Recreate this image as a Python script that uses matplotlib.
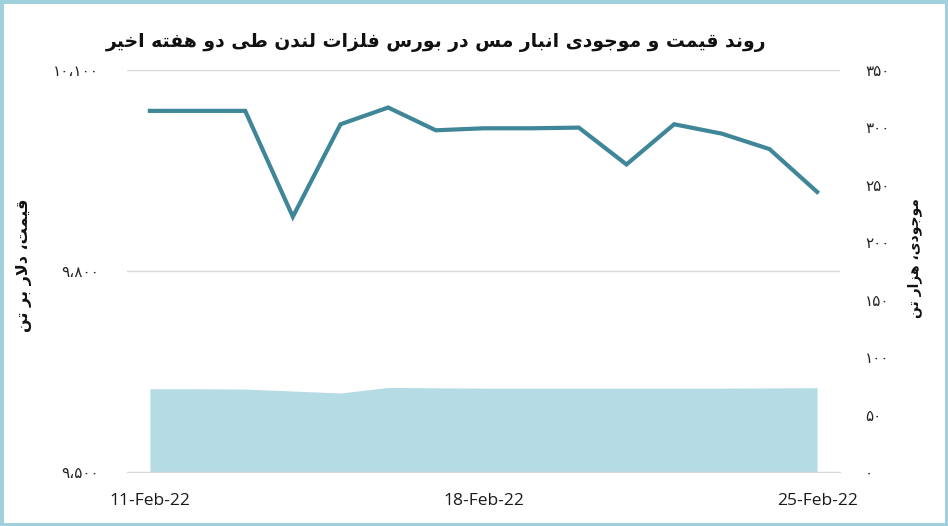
import matplotlib
matplotlib.use("Agg")
import matplotlib.pyplot as plt
from matplotlib.ticker import FuncFormatter, FixedLocator
from matplotlib.patches import Rectangle

# data: 11-Feb-22 .. 25-Feb-22, daily
days = list(range(15))
date_labels = ["11-Feb-22", "18-Feb-22", "25-Feb-22"]
date_ticks = [0, 7, 14]
price = [10039, 10039, 10039, 9881, 10019, 10044, 10010, 10013,
         10013, 10014, 9959, 10019, 10005, 9982, 9918]
stock = [72.5, 72.5, 72.2, 70.5, 68.8, 73.6, 73.3, 73.0,
         73.0, 73.0, 73.0, 73.0, 73.0, 73.2, 73.4]

title_txt = "روند قیمت و موجودی انبار مس در بورس فلزات لندن طی دو هفته اخیر"
left_label = "قیمت، دلار بر تن"
right_label = "موجودی، هزار تن"

# minimal arabic/persian shaping (isolated, final, initial, medial)
FORMS = {
    'ا': ('\uFE8D', '\uFE8E', None, None),
    'ب': ('\uFE8F', '\uFE90', '\uFE91', '\uFE92'),
    'ت': ('\uFE95', '\uFE96', '\uFE97', '\uFE98'),
    'ج': ('\uFE9D', '\uFE9E', '\uFE9F', '\uFEA0'),
    'خ': ('\uFEA5', '\uFEA6', '\uFEA7', '\uFEA8'),
    'د': ('\uFEA9', '\uFEAA', None, None),
    'ر': ('\uFEAD', '\uFEAE', None, None),
    'ز': ('\uFEAF', '\uFEB0', None, None),
    'س': ('\uFEB1', '\uFEB2', '\uFEB3', '\uFEB4'),
    'ط': ('\uFEC1', '\uFEC2', '\uFEC3', '\uFEC4'),
    'ف': ('\uFED1', '\uFED2', '\uFED3', '\uFED4'),
    'ق': ('\uFED5', '\uFED6', '\uFED7', '\uFED8'),
    'ل': ('\uFEDD', '\uFEDE', '\uFEDF', '\uFEE0'),
    'م': ('\uFEE1', '\uFEE2', '\uFEE3', '\uFEE4'),
    'ن': ('\uFEE5', '\uFEE6', '\uFEE7', '\uFEE8'),
    'ه': ('\uFEE9', '\uFEEA', '\uFEEB', '\uFEEC'),
    'و': ('\uFEED', '\uFEEE', None, None),
    'ی': ('\uFBFC', '\uFBFD', '\uFBFE', '\uFBFF'),
}


def joins_left(c):
    return c in FORMS and FORMS[c][2] is not None


def shape(text):
    out = []
    i = 0
    n = len(text)
    while i < n:
        c = text[i]
        if c not in FORMS:
            out.append(c)
            i += 1
            continue
        prev = text[i - 1] if i > 0 else None
        con_prev = prev is not None and joins_left(prev)
        if c == 'ل' and i + 1 < n and text[i + 1] == 'ا':
            out.append('\uFEFC' if con_prev else '\uFEFB')
            i += 2
            continue
        nxt = text[i + 1] if i + 1 < n else None
        con_next = joins_left(c) and nxt in FORMS
        iso, fin, ini, med = FORMS[c]
        if con_prev and con_next:
            out.append(med)
        elif con_prev:
            out.append(fin)
        elif con_next:
            out.append(ini)
        else:
            out.append(iso)
        i += 1
    return ''.join(reversed(out))


def fa_num(v, pos=None):
    s = f"{int(round(v)):,}".replace(",", "،")
    return s.translate(str.maketrans("0123456789", "۰۱۲۳۴۵۶۷۸۹"))


fa_font = ["DejaVu Sans"]
line_col = "#3f8698"
area_col = "#b5dbe5"
grid_col = "#d9d9d9"
text_col = "#262626"

fig = plt.figure(figsize=(9.48, 5.26), dpi=100)
fig.patches.append(Rectangle((0, 0), 1, 1, transform=fig.transFigure,
                             fill=False, edgecolor="#9fd0dc", linewidth=5))

ax = fig.add_axes([127 / 948, 1 - 472 / 526, 713 / 948, 402 / 526])
ax2 = ax.twinx()

# inventory (area) on the right axis, price line on the left axis
ax2.fill_between(days, stock, 0, color=area_col, linewidth=0)
ax2.set_ylim(0, 350)
ax2.yaxis.set_major_locator(FixedLocator(range(0, 351, 50)))
ax2.yaxis.set_major_formatter(FuncFormatter(fa_num))

ax.set_zorder(ax2.get_zorder() + 1)
ax.patch.set_visible(False)
ax.plot(days, price, color=line_col, linewidth=3, solid_joinstyle="miter")
ax.set_ylim(9500, 10100)
ax.yaxis.set_major_locator(FixedLocator([9500, 9800, 10100]))
ax.yaxis.set_major_formatter(FuncFormatter(fa_num))
ax.set_xlim(-0.48, 14.48)
ax.set_xticks(date_ticks)
ax.set_xticklabels(date_labels)
ax.grid(axis="y", color=grid_col, linewidth=1)
ax.set_axisbelow(True)

for a in (ax, ax2):
    for sp in a.spines.values():
        sp.set_visible(False)
ax2.spines["bottom"].set_visible(True)
ax2.spines["bottom"].set_color(grid_col)

ax.tick_params(axis="y", length=0, pad=20, labelsize=11, labelcolor=text_col)
ax2.tick_params(axis="y", length=0, pad=18, labelsize=11, labelcolor=text_col)
ax.tick_params(axis="x", length=0, pad=15, labelsize=12.5, labelcolor="#1a1a1a")
for lbl in ax.get_xticklabels():
    lbl.set_family("Open Sans")
for lbl in ax.get_yticklabels() + ax2.get_yticklabels():
    lbl.set_family(fa_font)

fig.text(436 / 948, 1 - 43 / 526, shape(title_txt), ha="center", va="center",
         fontsize=13.5, fontweight="bold", family=fa_font, color="#111111")
fig.text(24 / 948, 1 - 265 / 526, shape(left_label), ha="center", va="center",
         rotation=90, fontsize=11.5, fontweight="bold", family=fa_font, color="#111111")
fig.text(915 / 948, 1 - 258 / 526, shape(right_label), ha="center", va="center",
         rotation=90, fontsize=10, fontweight="bold", family=fa_font, color="#111111")

fig.savefig("out.png", dpi=100)
